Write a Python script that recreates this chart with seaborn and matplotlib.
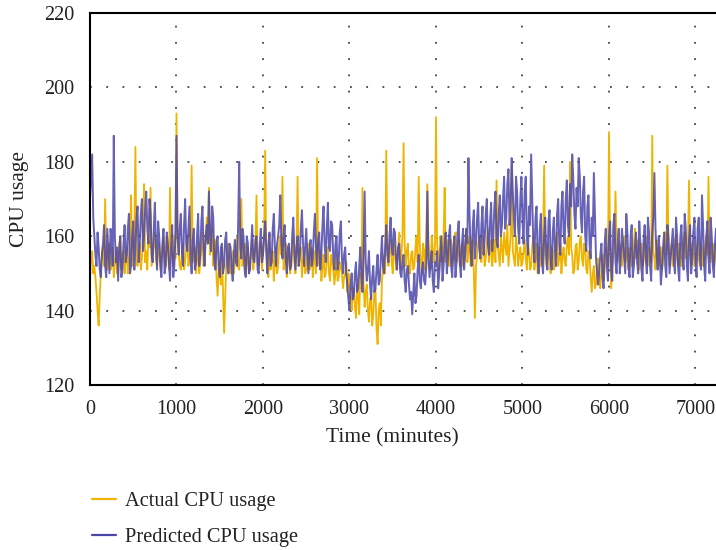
import numpy as np
import pandas as pd
import matplotlib
matplotlib.use("Agg")
import matplotlib.pyplot as plt
import seaborn as sns

# ---- data ----
# main readings every 25 minutes (0 ... 7250)
actual_main = [
    148, 156, 152, 145, 136, 150, 157, 170, 151, 158, 153, 149, 156, 152, 160, 154, 150, 157, 153, 171,
    155, 184, 152, 158, 154, 174, 156, 160, 173, 155, 161, 152, 158, 154, 160, 152, 157, 173, 155, 160,
    193, 156, 151, 158, 153, 160, 154, 179, 155, 150, 158, 153, 161, 155, 165, 173, 157, 152, 159, 144,
    153, 157, 134, 152, 158, 150, 156, 153, 160, 151, 170, 154, 150, 157, 152, 159, 154, 171, 152, 158,
    155, 183, 152, 160, 154, 148, 157, 152, 160, 176, 153, 149, 157, 152, 159, 150, 176, 154, 149, 156,
    151, 158, 153, 149, 156, 181, 152, 148, 155, 150, 157, 148, 153, 147, 155, 149, 152, 146, 150, 145,
    148, 140, 146, 138, 144, 150, 173, 141, 147, 137, 144, 139, 146, 131, 142, 148, 155, 183, 152, 159,
    150, 157, 153, 161, 155, 185, 152, 158, 150, 156, 152, 160, 176, 153, 158, 151, 174, 154, 160, 153,
    192, 155, 160, 153, 173, 156, 152, 159, 154, 161, 155, 152, 158, 154, 162, 156, 152, 159, 138, 155,
    160, 153, 158, 154, 162, 156, 152, 159, 175, 155, 160, 153, 158, 163, 156, 179, 154, 160, 152, 157,
    153, 159, 151, 156, 152, 160, 154, 150, 157, 153, 179, 152, 158, 150, 156, 152, 161, 154, 150, 157,
    152, 160, 180, 155, 151, 158, 153, 160, 152, 157, 150, 155, 145, 152, 147, 154, 146, 155, 151, 157,
    188, 146, 155, 172, 153, 158, 152, 160, 154, 151, 157, 153, 162, 155, 151, 158, 153, 160, 152, 156,
    187, 154, 159, 152, 157, 153, 161, 179, 152, 158, 154, 160, 152, 157, 153, 161, 155, 175, 152, 158,
    153, 159, 152, 157, 154, 160, 176, 153, 158, 154, 156,
]
# readings half-way between the main ones (12.5, 37.5, ... 7237.5)
actual_half = [
    154, 150, 149, 140, 144, 155, 152, 154, 156, 151, 157, 153, 150, 158, 151, 156, 154, 150, 159, 152,
    161, 153, 157, 151, 160, 153, 151, 157, 152, 158, 154, 156, 151, 157, 153, 160, 151, 156, 152, 154,
    160, 152, 155, 151, 157, 152, 158, 153, 157, 154, 150, 157, 152, 160, 158, 155, 162, 155, 149, 150,
    147, 145, 143, 156, 151, 154, 150, 158, 152, 156, 152, 158, 153, 150, 156, 151, 158, 153, 157, 151,
    160, 157, 149, 151, 156, 153, 150, 158, 155, 151, 158, 154, 150, 156, 153, 158, 152, 157, 153, 150,
    156, 151, 157, 153, 150, 155, 156, 152, 149, 154, 150, 155, 151, 150, 148, 153, 150, 149, 153, 150,
    143, 145, 141, 147, 139, 146, 147, 145, 140, 143, 136, 145, 135, 140, 136, 151, 150, 158, 156, 153,
    158, 151, 157, 151, 160, 158, 156, 150, 155, 151, 157, 153, 158, 150, 156, 160, 158, 151, 157, 156,
    158, 151, 157, 160, 153, 159, 156, 152, 158, 153, 159, 156, 152, 158, 153, 160, 155, 150, 152, 158,
    154, 160, 152, 158, 153, 159, 156, 153, 158, 152, 157, 161, 155, 152, 160, 156, 152, 157, 155, 152,
    156, 154, 158, 151, 157, 151, 158, 155, 152, 158, 156, 157, 153, 157, 151, 158, 152, 158, 155, 153,
    158, 155, 157, 150, 157, 151, 159, 154, 158, 151, 156, 149, 150, 146, 152, 149, 151, 148, 156, 152,
    158, 152, 156, 158, 157, 153, 158, 153, 157, 155, 152, 158, 154, 159, 156, 152, 158, 153, 157, 153,
    156, 151, 155, 157, 151, 158, 155, 158, 156, 152, 159, 154, 158, 152, 159, 154, 157, 156, 158, 152,
    156, 154, 158, 152, 158, 155, 157, 156, 152, 158,
]

predicted_main = [
    170, 182, 160, 152, 157, 149, 158, 152, 162, 150, 159, 187, 153, 148, 160, 151, 163, 155, 166, 152,
    164, 157, 168, 158, 170, 160, 172, 158, 166, 153, 169, 151, 160, 149, 162, 152, 158, 148, 163, 152,
    187, 155, 166, 152, 170, 156, 168, 150, 162, 153, 166, 155, 168, 152, 163, 172, 156, 165, 151, 160,
    149, 158, 152, 161, 150, 157, 148, 159, 152, 180, 154, 160, 149, 158, 151, 163, 153, 160, 150, 162,
    155, 164, 150, 161, 153, 166, 152, 160, 171, 154, 163, 150, 158, 152, 165, 151, 160, 155, 167, 152,
    162, 150, 159, 154, 166, 152, 161, 155, 168, 153, 169, 156, 163, 151, 160, 153, 164, 150, 157, 147,
    140, 150, 144, 153, 146, 157, 145, 172, 148, 156, 143, 152, 146, 155, 148, 160, 150, 163, 153, 165,
    155, 161, 151, 158, 149, 155, 145, 152, 143, 139, 150, 144, 155, 146, 153, 147, 172, 149, 156, 145,
    152, 146, 155, 148, 158, 150, 160, 152, 157, 149, 161, 153, 158, 151, 162, 181, 156, 163, 154, 165,
    157, 163, 155, 166, 158, 164, 156, 168, 159, 166, 160, 170, 162, 174, 163, 181, 165, 176, 162, 170,
    164, 172, 160, 168, 182, 158, 165, 154, 162, 153, 160, 155, 164, 154, 161, 156, 166, 158, 168, 161,
    170, 163, 174, 182, 166, 173, 181, 165, 172, 160, 168, 158, 165, 177, 154, 147, 155, 149, 158, 152,
    160, 151, 163, 153, 158, 150, 162, 154, 166, 152, 160, 149, 157, 153, 164, 151, 159, 154, 165, 152,
    161, 177, 155, 160, 147, 157, 152, 163, 150, 158, 153, 165, 151, 160, 154, 166, 152, 159, 150, 161,
    153, 162, 155, 171, 152, 160, 154, 165, 152, 158, 155,
]
predicted_half = [
    176, 165, 155, 161, 151, 155, 163, 149, 156, 162, 152, 160, 157, 156, 149, 158, 153, 162, 150, 160,
    151, 165, 153, 166, 156, 167, 162, 170, 155, 162, 157, 164, 153, 158, 150, 161, 153, 157, 149, 160,
    160, 162, 156, 163, 158, 162, 154, 159, 151, 160, 152, 164, 157, 160, 158, 160, 168, 153, 158, 152,
    157, 150, 159, 152, 158, 151, 155, 153, 163, 157, 162, 151, 160, 150, 157, 154, 159, 151, 158, 153,
    160, 156, 158, 152, 162, 157, 158, 163, 158, 160, 154, 157, 151, 160, 156, 157, 152, 162, 158, 157,
    155, 156, 152, 161, 157, 159, 151, 163, 158, 162, 157, 164, 154, 158, 151, 161, 154, 155, 150, 143,
    147, 143, 150, 145, 152, 149, 155, 153, 151, 147, 149, 145, 151, 147, 154, 152, 157, 155, 160, 157,
    162, 154, 157, 150, 153, 148, 151, 147, 145, 145, 142, 151, 148, 151, 148, 152, 154, 153, 148, 153,
    156, 150, 160, 152, 161, 154, 163, 149, 160, 153, 164, 149, 162, 155, 158, 166, 152, 167, 158, 169,
    154, 168, 159, 170, 155, 169, 160, 172, 157, 171, 163, 176, 165, 178, 168, 172, 160, 172, 158, 176,
    158, 176, 155, 163, 170, 153, 168, 150, 166, 150, 165, 151, 167, 151, 165, 152, 170, 155, 172, 158,
    175, 160, 168, 175, 162, 168, 176, 161, 176, 156, 171, 154, 160, 165, 150, 151, 158, 146, 162, 148,
    164, 148, 166, 150, 162, 155, 158, 150, 161, 149, 163, 152, 161, 150, 158, 148, 163, 150, 161, 148,
    165, 162, 151, 155, 151, 161, 149, 160, 154, 162, 150, 160, 148, 163, 151, 162, 148, 163, 154, 165,
    149, 165, 151, 163, 148, 164, 150, 160, 149, 162,
]

time_step = 12.5  # minutes between consecutive readings
series_names = ["Actual CPU usage", "Predicted CPU usage"]
series_colors = ["#F0B400", "#4B46AA"]
x_ticks = [0, 1000, 2000, 3000, 4000, 5000, 6000, 7000]
y_ticks = [120, 140, 160, 180, 200, 220]


def interleave(main, half):
    out = []
    for i, v in enumerate(main):
        out.append(v)
        if i < len(half):
            out.append(half[i])
    return out


actual_cpu = interleave(actual_main, actual_half)
predicted_cpu = interleave(predicted_main, predicted_half)
minutes_a = [i * time_step for i in range(len(actual_cpu))]
minutes_p = [i * time_step for i in range(len(predicted_cpu))]

df = pd.DataFrame({
    "Time": minutes_a + minutes_p,
    "CPU": actual_cpu + predicted_cpu,
    "Series": [series_names[0]] * len(actual_cpu) + [series_names[1]] * len(predicted_cpu),
})

sns.set_theme(style="white")
plt.rcParams["font.family"] = ["Liberation Serif", "DejaVu Serif"]
plt.rcParams["axes.linewidth"] = 1.5

fig = plt.figure(figsize=(7.16, 5.5), dpi=100)
ax = fig.add_axes([90 / 716, 165 / 550, 626 / 716, 372 / 550])

sns.lineplot(data=df[df.Series == series_names[0]], x="Time", y="CPU", ax=ax,
             color=series_colors[0], linewidth=1.3, label=series_names[0])
sns.lineplot(data=df[df.Series == series_names[1]], x="Time", y="CPU", ax=ax,
             color=series_colors[1], linewidth=1.4, alpha=0.85, label=series_names[1])

ax.set_xlim(0, 7237)
ax.set_ylim(120, 220)
ax.set_xticks(x_ticks)
ax.set_yticks(y_ticks)
ax.tick_params(axis="both", direction="out", length=5, width=1.5, labelsize=14.5, pad=6,
               colors="black")
for lab in ax.get_xticklabels() + ax.get_yticklabels():
    lab.set_color("#222222")

ax.grid(True, linestyle=(0, (1, 8)), color="#444444", linewidth=1.3)
ax.spines["right"].set_visible(False)
for s in ["left", "bottom", "top"]:
    ax.spines[s].set_color("black")
    ax.spines[s].set_linewidth(1.5)

ax.set_xlabel("Time (minutes)", fontsize=15.5, color="#222222")
ax.xaxis.set_label_coords((392 - 90) / 626, -0.115)
ax.set_ylabel("CPU usage", fontsize=15.5, color="#222222")
ax.yaxis.set_label_coords(-0.098, 0.5)

handles, labels = ax.get_legend_handles_labels()
if ax.legend_:
    ax.legend_.remove()
leg = fig.legend(handles, labels, loc="upper left", bbox_to_anchor=(84 / 716, 1 - 484 / 550),
                 frameon=False, fontsize=14.7, handlelength=1.15, handletextpad=0.45,
                 labelspacing=0.78, borderaxespad=0)
for t in leg.get_texts():
    t.set_color("#222222")
for l in leg.get_lines():
    l.set_linewidth(1.6)
    l.set_alpha(1)

fig.savefig("out.png", dpi=100)
